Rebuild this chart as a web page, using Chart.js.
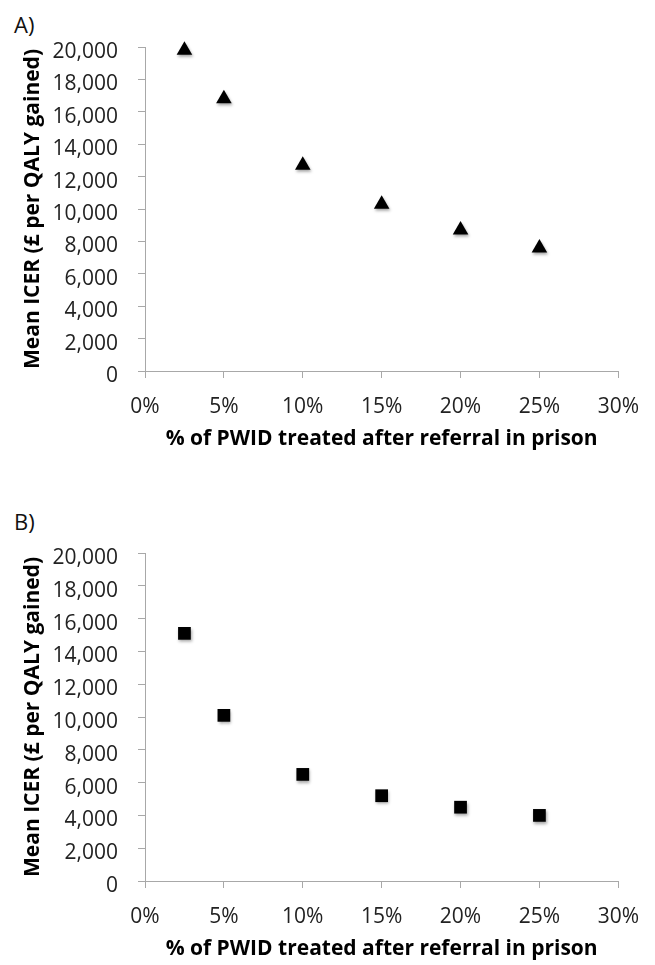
<!DOCTYPE html>
<html>
<head>
<meta charset="utf-8">
<script src="https://cdn.jsdelivr.net/npm/chart.js@4.4.1/dist/chart.umd.min.js"></script>
<style>
  html, body { margin: 0; padding: 0; background: #fff; width: 655px; height: 965px; overflow: hidden; }
  .panel { position: absolute; left: 0; width: 655px; }
  .lbl { position: absolute; left: 14px; font: 22px "Open Sans", sans-serif; color: #111; line-height: 1; }
</style>
</head>
<body>
<div class="lbl" style="top:13px">A)</div>
<div class="lbl" style="top:510px">B)</div>
<div class="panel" style="top:0;height:480px"><canvas id="chartA" width="655" height="480"></canvas></div>
<div class="panel" style="top:480px;height:485px"><canvas id="chartB" width="655" height="485"></canvas></div>
<script>
// ---- data ----
const xPercent = [2.5, 5, 10, 15, 20, 25];
const icerA = [19800, 16800, 12700, 10300, 8700, 7600];
const icerB = [15100, 10100, 6500, 5200, 4500, 4000];
const xTickValues = [0, 5, 10, 15, 20, 25, 30];
const yTickValues = [0, 2000, 4000, 6000, 8000, 10000, 12000, 14000, 16000, 18000, 20000];
const xTitle = '% of PWID treated after referral in prison';
const yTitle = 'Mean ICER (£ per QALY gained)';

const AXIS_GRAY = '#a8a8a8';

const shadowPlugin = {
  id: 'markerShadow',
  beforeDatasetsDraw(chart) {
    const ctx = chart.ctx;
    ctx.save();
    ctx.shadowColor = 'rgba(0,0,0,0.35)';
    ctx.shadowBlur = 3;
    ctx.shadowOffsetX = 1;
    ctx.shadowOffsetY = 2;
  },
  afterDatasetsDraw(chart) { chart.ctx.restore(); }
};

function makeChart(id, values, pointStyle, radius, padding) {
  const data = xPercent.map((x, i) => ({ x: x, y: values[i] }));
  return new Chart(document.getElementById(id), {
    type: 'scatter',
    data: {
      datasets: [{
        data: data,
        clip: false,
        pointStyle: pointStyle,
        pointRadius: radius,
        pointHoverRadius: radius,
        backgroundColor: '#000',
        borderColor: '#000',
        borderWidth: 0
      }]
    },
    plugins: [shadowPlugin],
    options: {
      responsive: false,
      animation: false,
      events: [],
      layout: { padding: padding },
      plugins: { legend: { display: false }, tooltip: { enabled: false }, title: { display: false } },
      scales: {
        x: {
          type: 'linear',
          min: 0, max: 30,
          afterBuildTicks: s => { s.ticks = xTickValues.map(v => ({ value: v })); },
          afterFit: s => { s.height = 84; },
          grid: { display: true, drawOnChartArea: false, drawTicks: true, tickLength: 7, color: AXIS_GRAY, lineWidth: 1 },
          border: { display: true, color: AXIS_GRAY, width: 1 },
          ticks: {
            padding: 16,
            color: '#222',
            font: { family: 'Open Sans', size: 21 },
            maxRotation: 0,
            autoSkip: false,
            callback: v => v + '%'
          },
          title: {
            display: true,
            text: xTitle,
            color: '#000',
            font: { family: 'Open Sans', size: 21, weight: 'bold' },
            padding: { top: 0, bottom: 3 }
          }
        },
        y: {
          type: 'linear',
          min: 0, max: 20000,
          afterBuildTicks: s => { s.ticks = yTickValues.map(v => ({ value: v })); },
          afterFit: s => { s.width = 145; },
          grid: { display: true, drawOnChartArea: false, drawTicks: true, tickLength: 7, color: AXIS_GRAY, lineWidth: 1 },
          border: { display: true, color: AXIS_GRAY, width: 1 },
          ticks: {
            padding: 20,
            labelOffset: 5,
            color: '#222',
            font: { family: 'Open Sans', size: 21 },
            autoSkip: false,
            callback: v => v.toLocaleString('en-US')
          },
          title: {
            display: true,
            text: yTitle,
            color: '#000',
            font: { family: 'Open Sans', size: 21, weight: 'bold' },
            padding: { top: 20, bottom: 0 }
          }
        }
      }
    }
  });
}

makeChart('chartA', icerA, 'triangle', 9, { top: 47, left: 0, right: 28, bottom: 25 });
makeChart('chartB', icerB, 'rect', 9, { top: 73, left: 0, right: 24, bottom: 0 });
</script>
</body>
</html>
